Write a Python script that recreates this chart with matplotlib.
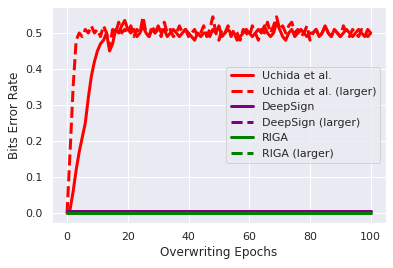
import matplotlib
matplotlib.use("Agg")
import matplotlib.pyplot as plt
import seaborn as sns
import numpy as np

epochs = list(range(101))

uchida = [
    0.00, 0.01, 0.06, 0.12, 0.17, 0.21, 0.25, 0.32, 0.38, 0.42,
    0.45, 0.47, 0.48, 0.50, 0.45, 0.47, 0.51, 0.50, 0.52, 0.535,
    0.51, 0.50, 0.51, 0.49, 0.50, 0.52, 0.50, 0.49, 0.51, 0.50,
    0.52, 0.50, 0.51, 0.49, 0.50, 0.51, 0.50, 0.49, 0.50, 0.51,
    0.50, 0.49, 0.48, 0.50, 0.49, 0.50, 0.50, 0.49, 0.51, 0.50,
    0.52, 0.49, 0.50, 0.51, 0.50, 0.50, 0.48, 0.49, 0.50, 0.51,
    0.50, 0.49, 0.50, 0.51, 0.50, 0.52, 0.50, 0.49, 0.50, 0.53,
    0.51, 0.49, 0.48, 0.50, 0.51, 0.49, 0.50, 0.51, 0.50, 0.49,
    0.50, 0.50, 0.51, 0.49, 0.50, 0.52, 0.50, 0.49, 0.51, 0.50,
    0.49, 0.50, 0.51, 0.50, 0.49, 0.50, 0.51, 0.50, 0.49, 0.51,
    0.50,
]

uchida_larger = [
    0.00, 0.17, 0.35, 0.48, 0.50, 0.49, 0.51, 0.50, 0.52, 0.50,
    0.51, 0.49, 0.52, 0.50, 0.46, 0.51, 0.50, 0.53, 0.50, 0.51,
    0.50, 0.52, 0.49, 0.51, 0.50, 0.545, 0.50, 0.49, 0.52, 0.50,
    0.51, 0.49, 0.53, 0.50, 0.51, 0.49, 0.50, 0.52, 0.50, 0.51,
    0.49, 0.50, 0.51, 0.49, 0.50, 0.52, 0.49, 0.51, 0.545, 0.50,
    0.48, 0.51, 0.50, 0.52, 0.49, 0.51, 0.50, 0.48, 0.51, 0.50,
    0.49, 0.52, 0.50, 0.48, 0.51, 0.50, 0.53, 0.50, 0.52, 0.545,
    0.51, 0.52, 0.50, 0.52, 0.53, 0.50, 0.51, 0.49, 0.50, 0.52,
    0.48, 0.50, 0.51, 0.49, 0.50, 0.52, 0.50, 0.49, 0.51, 0.50,
    0.49, 0.52, 0.50, 0.49, 0.51, 0.50, 0.49, 0.51, 0.50, 0.49,
    0.50,
]

deepsign = [0.006] * 101
deepsign_larger = [0.006] * 101
riga = [0.0] * 101
riga_larger = [0.0] * 101

sns.set_theme()

fig = plt.figure(figsize=(393 / 72, 268 / 72), dpi=72)
ax = fig.add_axes([0.132, 0.168, 0.85, 0.806])

ax.plot(epochs, uchida, color='red', lw=3, label='Uchida et al.')
ax.plot(epochs, uchida_larger, color='red', lw=3, ls='--', label='Uchida et al. (larger)')
ax.plot(epochs, deepsign, color='purple', lw=3, label='DeepSign')
ax.plot(epochs, deepsign_larger, color='purple', lw=3, ls='--', label='DeepSign (larger)')
ax.plot(epochs, riga, color='green', lw=3, label='RIGA')
ax.plot(epochs, riga_larger, color='green', lw=3, ls='--', label='RIGA (larger)')

ax.set_xlabel('Overwriting Epochs')
ax.set_ylabel('Bits Error Rate')
ax.legend(loc='center right')

fig.savefig('out.png', dpi=72)
